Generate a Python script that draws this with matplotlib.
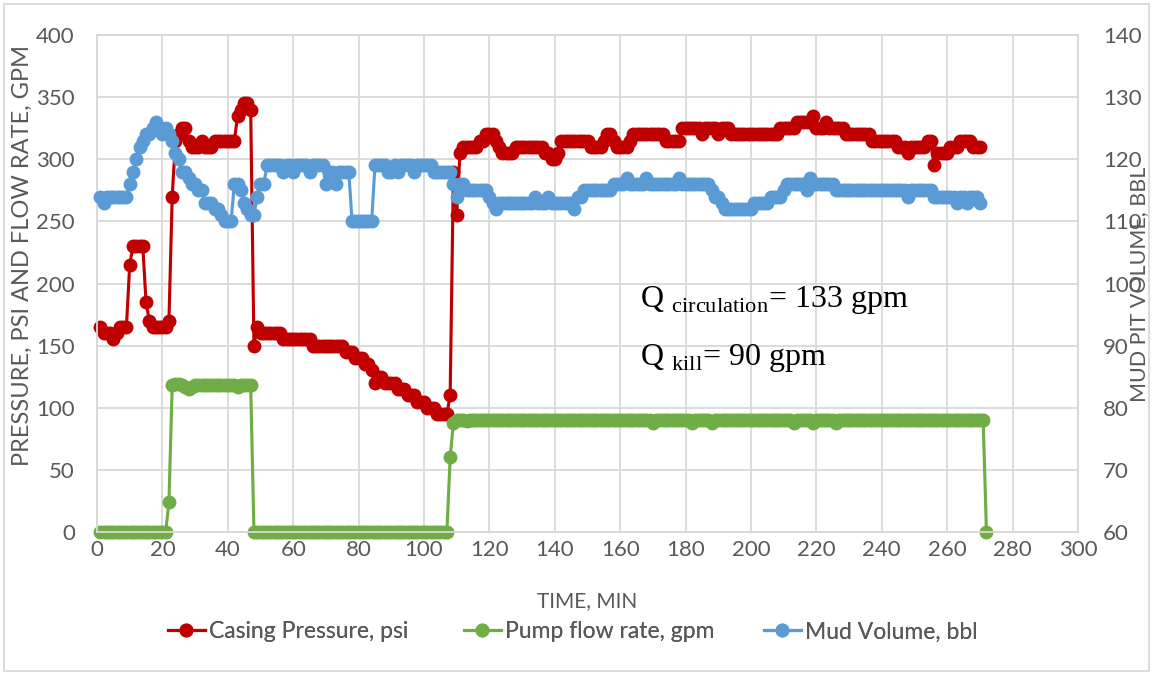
import numpy as np
import matplotlib
matplotlib.use("Agg")
import matplotlib.pyplot as plt
from matplotlib.patches import Rectangle

# casing pressure, psi (one reading per minute, from t = 1 min)
casing_pressure = [
    165, 160, 160, 160, 155, 160, 165, 165, 165, 215,
    230, 230, 230, 230, 185, 170, 165, 165, 165, 165,
    165, 170, 270, 315, 320, 325, 325, 315, 310, 310,
    310, 315, 310, 310, 310, 315, 315, 315, 315, 315,
    315, 315, 335, 340, 345, 345, 340, 150, 165, 160,
    160, 160, 160, 160, 160, 160, 155, 155, 155, 155,
    155, 155, 155, 155, 155, 150, 150, 150, 150, 150,
    150, 150, 150, 150, 150, 145, 145, 145, 140, 140,
    140, 135, 135, 130, 120, 125, 125, 120, 120, 120,
    120, 115, 115, 115, 110, 110, 110, 105, 105, 105,
    100, 100, 100, 95, 95, 95, 95, 110, 290, 255,
    305, 310, 310, 310, 310, 310, 315, 315, 320, 320,
    320, 315, 310, 305, 305, 305, 305, 310, 310, 310,
    310, 310, 310, 310, 310, 310, 305, 305, 300, 300,
    305, 315, 315, 315, 315, 315, 315, 315, 315, 315,
    310, 310, 310, 310, 315, 320, 320, 315, 310, 310,
    310, 310, 315, 320, 320, 320, 320, 320, 320, 320,
    320, 320, 320, 315, 315, 315, 315, 315, 325, 325,
    325, 325, 325, 325, 320, 325, 325, 325, 325, 320,
    325, 325, 325, 320, 320, 320, 320, 320, 320, 320,
    320, 320, 320, 320, 320, 320, 320, 320, 325, 325,
    325, 325, 325, 330, 330, 330, 330, 330, 335, 325,
    325, 325, 330, 325, 325, 325, 325, 325, 320, 320,
    320, 320, 320, 320, 320, 320, 315, 315, 315, 315,
    315, 315, 315, 315, 310, 310, 310, 305, 310, 310,
    310, 310, 310, 315, 315, 295, 305, 305, 305, 305,
    310, 310, 310, 315, 315, 315, 315, 310, 310, 310,
]

# pump flow rate, gpm
pump_rate = [
    0, 0, 0, 0, 0, 0, 0, 0, 0, 0,
    0, 0, 0, 0, 0, 0, 0, 0, 0, 0,
    0, 24, 118, 119, 119, 118, 117, 115, 117, 118,
    118, 118, 118, 118, 118, 118, 118, 118, 118, 118,
    118, 118, 117, 118, 118, 118, 118, 0, 0, 0,
    0, 0, 0, 0, 0, 0, 0, 0, 0, 0,
    0, 0, 0, 0, 0, 0, 0, 0, 0, 0,
    0, 0, 0, 0, 0, 0, 0, 0, 0, 0,
    0, 0, 0, 0, 0, 0, 0, 0, 0, 0,
    0, 0, 0, 0, 0, 0, 0, 0, 0, 0,
    0, 0, 0, 0, 0, 0, 0, 60, 88, 90,
    90, 90, 89, 90, 90, 90, 90, 90, 90, 90,
    90, 90, 90, 90, 90, 90, 90, 90, 90, 90,
    90, 90, 90, 90, 90, 90, 90, 90, 90, 90,
    90, 90, 90, 90, 90, 90, 90, 90, 90, 90,
    90, 90, 90, 90, 90, 90, 90, 90, 90, 90,
    90, 90, 90, 90, 90, 90, 90, 90, 90, 88,
    90, 90, 90, 90, 90, 90, 90, 90, 90, 90,
    90, 88, 90, 90, 90, 90, 90, 88, 90, 90,
    90, 90, 90, 90, 90, 90, 90, 90, 90, 90,
    90, 90, 90, 90, 90, 90, 90, 90, 90, 90,
    90, 90, 88, 90, 90, 90, 90, 90, 88, 90,
    90, 90, 90, 90, 90, 88, 90, 90, 90, 90,
    90, 90, 90, 90, 90, 90, 90, 90, 90, 90,
    90, 90, 90, 90, 90, 90, 90, 90, 90, 90,
    90, 90, 90, 90, 90, 90, 90, 90, 90, 90,
    90, 90, 90, 90, 90, 90, 90, 90, 90, 90,
    90, 0,
]

# mud pit volume, bbl
mud_volume = [
    114, 113, 114, 114, 114, 114, 114, 114, 114, 116,
    118, 120, 122, 123, 124, 124, 125, 126, 125, 124,
    125, 124, 123, 121, 120, 118, 118, 117, 116, 116,
    115, 115, 113, 113, 113, 112, 112, 111, 110, 110,
    110, 116, 116, 115, 113, 112, 111, 111, 114, 116,
    116, 119, 119, 119, 119, 119, 118, 119, 119, 118,
    119, 119, 119, 119, 118, 119, 119, 119, 119, 116,
    118, 118, 116, 118, 118, 118, 118, 110, 110, 110,
    110, 110, 110, 110, 119, 119, 119, 119, 118, 118,
    119, 118, 119, 119, 119, 119, 118, 119, 119, 119,
    119, 119, 118, 118, 118, 118, 118, 118, 116, 114,
    116, 116, 115, 115, 115, 115, 115, 115, 115, 114,
    113, 112, 113, 113, 113, 113, 113, 113, 113, 113,
    113, 113, 113, 114, 113, 113, 113, 114, 113, 113,
    113, 113, 113, 113, 113, 112, 114, 114, 115, 115,
    115, 115, 115, 115, 115, 115, 115, 116, 116, 116,
    116, 117, 116, 116, 116, 116, 116, 117, 116, 116,
    116, 116, 116, 116, 116, 116, 116, 117, 116, 116,
    116, 116, 116, 116, 116, 116, 116, 115, 114, 114,
    113, 112, 112, 112, 112, 112, 112, 112, 112, 112,
    113, 113, 113, 113, 113, 114, 114, 114, 114, 115,
    116, 116, 116, 116, 116, 116, 115, 117, 116, 116,
    116, 116, 116, 116, 116, 115, 115, 115, 115, 115,
    115, 115, 115, 115, 115, 115, 115, 115, 115, 115,
    115, 115, 115, 115, 115, 115, 115, 114, 115, 115,
    115, 115, 115, 115, 115, 114, 114, 114, 114, 114,
    114, 114, 113, 114, 114, 113, 114, 114, 114, 113,
]

x_ticks = list(range(0, 301, 20))
y_ticks = list(range(0, 401, 50))
y2_ticks = list(range(60, 141, 10))

RED = "#C00000"
GREEN = "#70AD47"
BLUE = "#5B9BD5"
GRID = "#D9D9D9"
TXT = "#595959"


def main():
    plt.rcParams['font.family'] = ['Lato', 'DejaVu Sans']
    plt.rcParams['mathtext.fontset'] = 'custom'
    plt.rcParams['mathtext.rm'] = 'Liberation Serif'

    fig = plt.figure(figsize=(11.54, 6.74), dpi=100)
    ax = fig.add_axes([97 / 1154, 1 - 532 / 674, (1078 - 97) / 1154, (532 - 35) / 674])
    ax2 = ax.twinx()

    t_p = np.arange(1, len(casing_pressure) + 1)
    t_q = np.arange(1, len(pump_rate) + 1)
    t_v = np.arange(1, len(mud_volume) + 1)

    style = dict(lw=2.25, marker='o', ms=9, clip_on=False)
    l1, = ax.plot(t_p, casing_pressure, color=RED, label='Casing Pressure, psi', zorder=3, **style)
    l2, = ax.plot(t_q, pump_rate, color=GREEN, label='Pump flow rate, gpm', zorder=3, **style)
    l3, = ax2.plot(t_v, mud_volume, color=BLUE, label='Mud Volume, bbl', zorder=3, **style)

    ax.set_xlim(0, 300)
    ax.set_ylim(0, 400)
    ax2.set_ylim(60, 140)
    ax.set_xticks(x_ticks)
    ax.set_yticks(y_ticks)
    ax2.set_yticks(y2_ticks)
    ax.grid(True, color=GRID, lw=1.3)
    ax.set_axisbelow(True)
    for a in (ax, ax2):
        for s in a.spines.values():
            s.set_color(GRID)
            s.set_linewidth(1.3)
        a.tick_params(length=0, labelsize=16, colors=TXT)
    ax.tick_params(axis='y', pad=16)
    ax.tick_params(axis='x', pad=6)
    ax2.tick_params(axis='y', pad=18)

    ax.set_xlabel('TIME, MIN', fontsize=15, color=TXT, labelpad=22)
    fig.text(0.019, 1 - 255 / 674, 'PRESSURE, PSI AND FLOW RATE, GPM', rotation=90,
             ha='center', va='center', fontsize=17, color=TXT)
    fig.text(1139 / 1154, 1 - 284 / 674, 'MUD PIT VOLUME, BBL', rotation=90,
             ha='center', va='center', fontsize=15.5, color=TXT)

    ax.text(166, 187, r'Q $_{\mathrm{circulation}}$= 133 gpm', family='Liberation Serif',
            fontsize=23, color='black', va='center')
    ax.text(166, 140, r'Q $_{\mathrm{kill}}$= 90 gpm', family='Liberation Serif',
            fontsize=23, color='black', va='center')

    # legend entries placed one by one, like the spreading in the original
    for h, x0 in zip([l1, l2, l3], [168, 464, 764]):
        leg = fig.legend(handles=[h], loc='center left', bbox_to_anchor=(x0 / 1154, 1 - 632 / 674),
                         frameon=False, fontsize=16.5, labelcolor=TXT, handlelength=1.6,
                         handletextpad=0.2, borderpad=0, borderaxespad=0)
        fig.add_artist(leg)

    fig.patches.append(Rectangle((4 / 1154, 3 / 674), 1145 / 1154, 667 / 674,
                                 transform=fig.transFigure, fill=False,
                                 edgecolor=GRID, lw=1.3))

    fig.savefig('out.png', dpi=100)


if __name__ == '__main__':
    main()
